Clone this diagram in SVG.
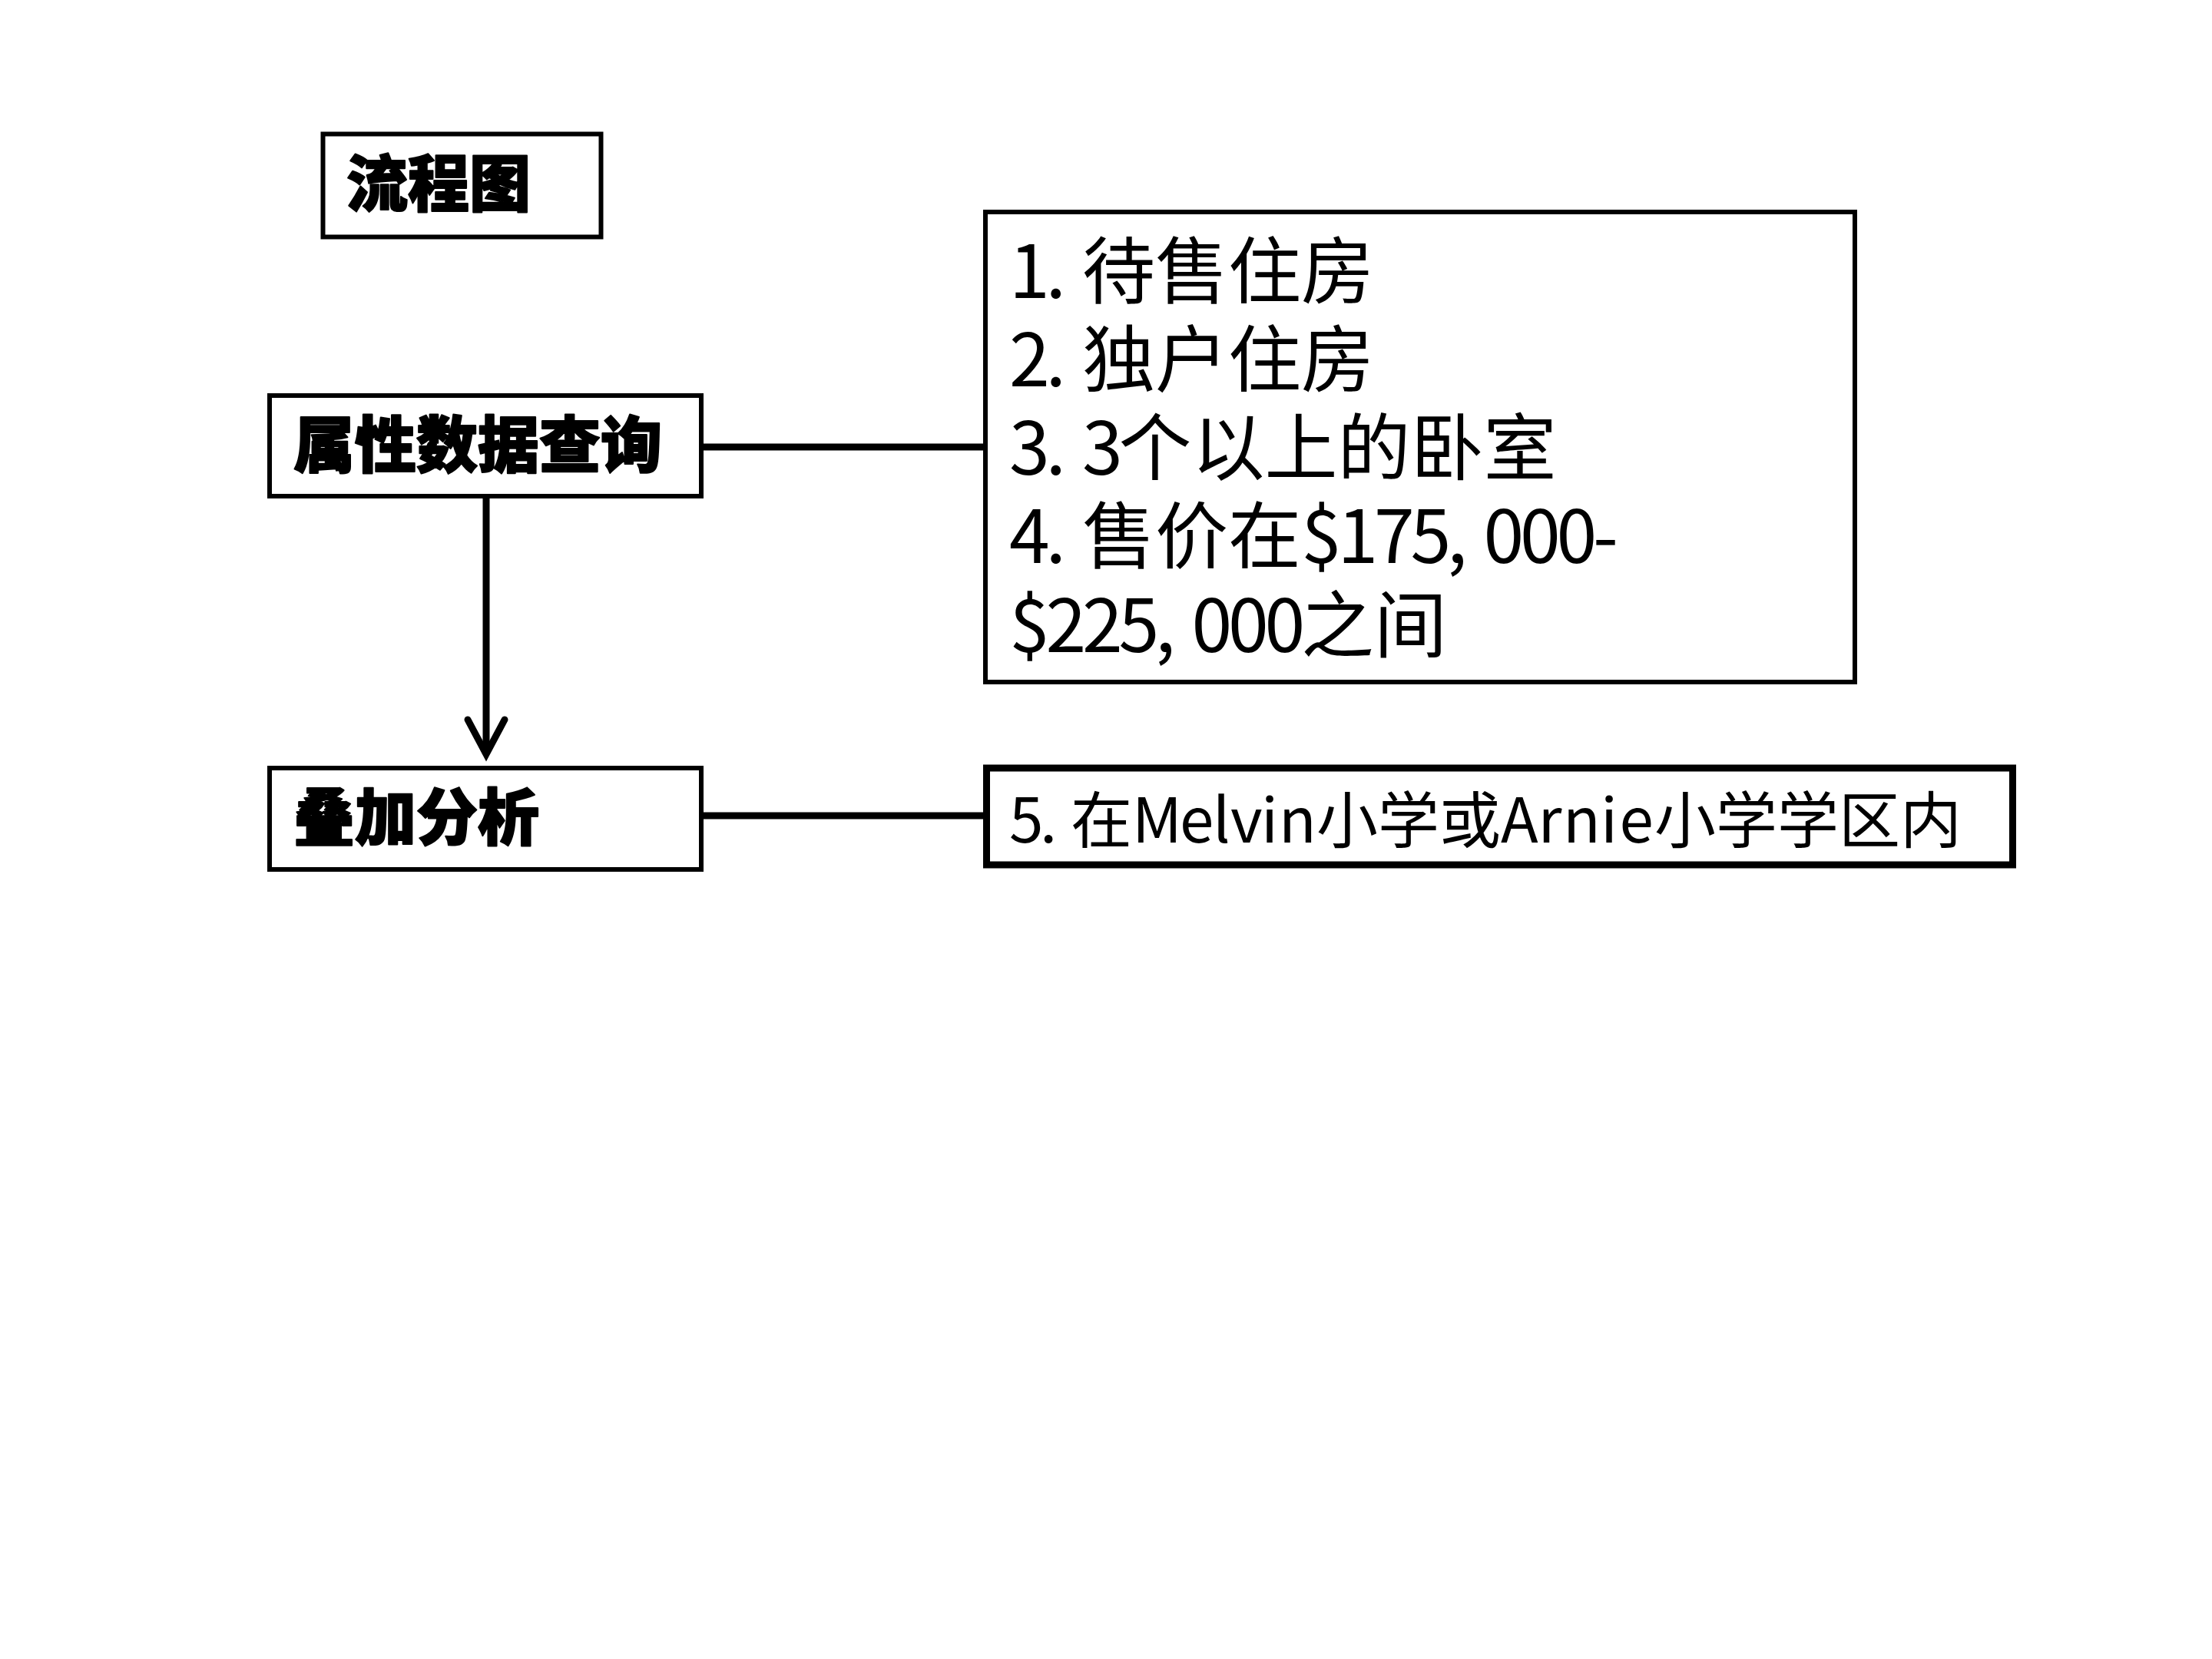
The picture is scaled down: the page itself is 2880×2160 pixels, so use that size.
<svg xmlns="http://www.w3.org/2000/svg" width="2880" height="2160" viewBox="0 0 2880 2160">
<defs>
<style>
.box{fill:#ffffff;stroke:#000000;stroke-width:6}
.thick{stroke-width:9}
.conn{stroke:#000000;stroke-width:9;fill:none}
.title{font-family:"Noto Sans CJK SC","Noto Sans",sans-serif;font-weight:900;font-size:80px;fill:#000000;stroke:#000000;stroke-width:2;stroke-linejoin:round}
.body{font-family:"Noto Sans CJK SC","Noto Sans",sans-serif;font-size:95px;fill:#000000}
.body2{font-family:"Noto Sans CJK SC","Noto Sans",sans-serif;font-size:80px;fill:#000000}
</style>
</defs>
<rect width="2880" height="2160" fill="#ffffff"/>
<g id="connectors">
<line class="conn" x1="916" y1="582" x2="1283" y2="582"/>
<line class="conn" x1="916" y1="1062" x2="1284" y2="1062"/>
<line class="conn" x1="633" y1="649" x2="633" y2="982"/>
<polyline class="conn" points="609,937 633,982 657,937" stroke-linecap="round" stroke-linejoin="miter"/>
</g>
<g id="node-flowchart">
<rect class="box" x="420.5" y="174.5" width="362" height="134" stroke-width="5"/>
<text class="title" x="451" y="268">流程图</text>
</g>
<g id="node-attr-query">
<rect class="box" x="351" y="515" width="562" height="131"/>
<text class="title" x="382" y="608">属性数据查询</text>
</g>
<g id="node-overlay">
<rect class="box" x="351" y="1000" width="562" height="132"/>
<text class="title" x="382" y="1093">叠加分析</text>
</g>
<g id="node-criteria">
<rect class="box" x="1283" y="276" width="1132" height="612"/>
<text class="body" y="388"><tspan x="1314 1361.5">1.</tspan><tspan x="1409 1504 1599 1694">待售住房</tspan></text>
<text class="body" y="503"><tspan x="1314 1361.5">2.</tspan><tspan x="1409 1504 1599 1694">独户住房</tspan></text>
<text class="body" y="618"><tspan x="1314 1361.5 1409">3.3</tspan><tspan x="1456.5 1551.5 1646.5 1741.5 1836.5 1931.5">个以上的卧室</tspan></text>
<text class="body" y="733"><tspan x="1314 1361.5">4.</tspan><tspan x="1409 1504 1599">售价在</tspan><tspan x="1694 1741.5 1789 1836.5 1884 1931.5 1979 2026.5 2074">$175,000-</tspan></text>
<text class="body" y="849"><tspan x="1314 1361.5 1409 1456.5 1504 1551.5 1599 1646.5">$225,000</tspan><tspan x="1694 1789">之间</tspan></text>
</g>
<g id="node-school">
<rect class="box thick" x="1284.5" y="1000" width="1336" height="126"/>
<text class="body2" y="1097"><tspan x="1314 1354">5.</tspan><tspan x="1394">在</tspan><tspan x="1474 1536 1579 1602 1642 1665">Melvin</tspan><tspan x="1714 1794 1874">小学或</tspan><tspan x="1954 2002.5 2035 2084 2108.5">Arnie</tspan><tspan x="2154 2234 2314 2394 2474">小学学区内</tspan></text>
</g>
</svg>
